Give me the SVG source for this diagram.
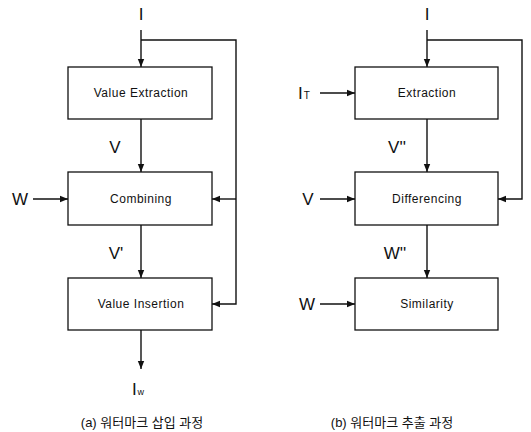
<svg xmlns="http://www.w3.org/2000/svg" width="531" height="432" viewBox="0 0 531 432">
<defs>
<marker id="ah" viewBox="0 0 10 10" refX="10" refY="5" markerWidth="8" markerHeight="8" markerUnits="userSpaceOnUse" orient="auto">
<path d="M0,1 L10,5 L0,9 Z" fill="#111"/>
</marker>
<style>
.box{fill:#fff;stroke:#111;stroke-width:1.3}
.ln{fill:none;stroke:#111;stroke-width:1.4}
.bt{font-family:"Liberation Sans",Arial,sans-serif;font-size:12px;letter-spacing:0.5px;fill:#111;text-anchor:middle}
.lb{font-family:"Liberation Sans",Arial,sans-serif;font-size:17px;fill:#111;text-anchor:middle}
.cap{font-family:"Liberation Sans","Noto Sans CJK KR",sans-serif;font-size:13px;fill:#111;text-anchor:middle}
</style>
</defs>
<rect width="531" height="432" fill="#fff"/>
<g id="connectors">
<path class="ln" d="M141,30 V67" marker-end="url(#ah)"/>
<path class="ln" d="M141,40 H236 V304 H212" marker-end="url(#ah)"/>
<path class="ln" d="M236,199 H212" marker-end="url(#ah)"/>
<path class="ln" d="M141,119 V172" marker-end="url(#ah)"/>
<path class="ln" d="M33,199 H68" marker-end="url(#ah)"/>
<path class="ln" d="M141,225 V278" marker-end="url(#ah)"/>
<path class="ln" d="M141,330 V369" marker-end="url(#ah)"/>
<path class="ln" d="M427,30 V67" marker-end="url(#ah)"/>
<path class="ln" d="M427,40 H522 V199 H498" marker-end="url(#ah)"/>
<path class="ln" d="M320,93 H355" marker-end="url(#ah)"/>
<path class="ln" d="M427,119 V172" marker-end="url(#ah)"/>
<path class="ln" d="M320,199 H355" marker-end="url(#ah)"/>
<path class="ln" d="M427,225 V278" marker-end="url(#ah)"/>
<path class="ln" d="M320,304 H355" marker-end="url(#ah)"/>
</g>
<g id="value-extraction"><rect class="box" x="68" y="67" width="144" height="52"/><text class="bt" x="141" y="97">Value Extraction</text></g>
<g id="combining"><rect class="box" x="68" y="172" width="144" height="53"/><text class="bt" x="141" y="203">Combining</text></g>
<g id="value-insertion"><rect class="box" x="68" y="278" width="144" height="52"/><text class="bt" x="141" y="308">Value Insertion</text></g>
<g id="extraction"><rect class="box" x="355" y="67" width="143" height="52"/><text class="bt" x="427" y="97">Extraction</text></g>
<g id="differencing"><rect class="box" x="355" y="172" width="143" height="53"/><text class="bt" x="427" y="203">Differencing</text></g>
<g id="similarity"><rect class="box" x="355" y="278" width="143" height="52"/><text class="bt" x="427" y="308">Similarity</text></g>
<g id="labels">
<text class="lb" x="141" y="20">I</text>
<text class="lb" x="115" y="153">V</text>
<text class="lb" x="20" y="205">W</text>
<text class="lb" x="116" y="259">V'</text>
<text class="lb" x="138" y="395">I<tspan font-size="9" dx="1">w</tspan></text>
<text class="lb" x="427" y="20">I</text>
<text class="lb" x="304" y="99">I<tspan font-size="10" dx="1">T</tspan></text>
<text class="lb" x="397" y="153">V''</text>
<text class="lb" x="308" y="205">V</text>
<text class="lb" x="395" y="259">W''</text>
<text class="lb" x="307" y="310">W</text>
<text class="cap" x="142" y="427">(a) 워터마크 삽입 과정</text>
<text class="cap" x="392" y="427">(b) 워터마크 추출 과정</text>
</g>
</svg>
